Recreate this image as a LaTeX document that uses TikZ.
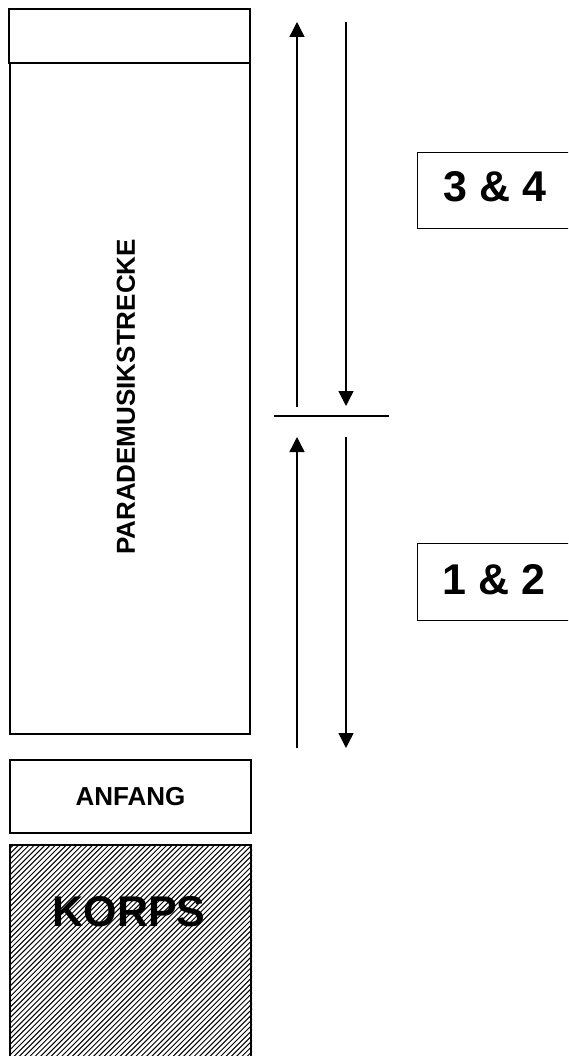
\documentclass[tikz,border=0pt]{standalone}
\usepackage{fontspec}
\setmainfont{Liberation Sans}
\usetikzlibrary{arrows.meta}
\begin{document}
\begin{tikzpicture}[x=1pt,y=-1pt,
  lbox/.style={draw=black,line width=2pt,inner sep=0pt,anchor=north west},
  rbox/.style={draw=black,line width=1.4pt,inner sep=0pt,anchor=north west},
  flow/.style={line width=1.4pt,-{Triangle[width=15pt,length=15pt]}},
  plain/.style={line width=1.4pt},
  hatch/.style={line width=1pt},
  lbl/.style={font=\bfseries\fontsize{26}{30}\selectfont},
  big/.style={font=\bfseries\fontsize{43}{48}\selectfont}]
\clip (0,0) rectangle (568,1056);

% left column of boxes
\node[lbox,minimum width=241pt,minimum height=54pt] (top) at (8,8) {};
\node[lbox,minimum width=240pt,minimum height=671pt] (strecke) at (9,62) {};
\node[lbl,rotate=90] (streckelbl) at (126,397) {PARADEMUSIKSTRECKE};
\node[lbox,minimum width=241pt,minimum height=73pt] (anfang) at (9,759) {};
\node[lbl] (anfanglbl) at (anfang.center) {ANFANG};
\node[lbox,minimum width=241pt,minimum height=226pt] (korps) at (9,844) {};

% hatching of the KORPS area
\begin{scope}
  \clip (korps.north west) rectangle (korps.south east);
  \foreach \i in {0,...,90}
    \draw[hatch] (9-226+\i*5.3,1070) -- ++(226,-226);
\end{scope}
\node[lbox,minimum width=241pt,minimum height=226pt] at (9,844) {};
\node[big] (korpslbl) at (129,912) {KORPS};

% group labels on the right
\node[rbox,minimum width=156pt,minimum height=76pt] (g34) at (417,152) {};
\node[big] (g34lbl) at (495,187) {3 \& 4};
\node[rbox,minimum width=156pt,minimum height=77pt] (g12) at (417,543) {};
\node[big] (g12lbl) at (494,580) {1 \& 2};

% direction arrows
\coordinate (ua1) at (297,407);
\coordinate (ua2) at (297,22);
\coordinate (ud1) at (346,22);
\coordinate (ud2) at (346,406);
\coordinate (la1) at (297,748);
\coordinate (la2) at (297,437);
\coordinate (ld1) at (346,437);
\coordinate (ld2) at (346,748);
\coordinate (sep1) at (274,416);
\coordinate (sep2) at (389,416);
\draw[flow] (ua1) -- (ua2);
\draw[flow] (ud1) -- (ud2);
\draw[flow] (la1) -- (la2);
\draw[flow] (ld1) -- (ld2);
\draw[plain] (sep1) -- (sep2);
\end{tikzpicture}
\end{document}
